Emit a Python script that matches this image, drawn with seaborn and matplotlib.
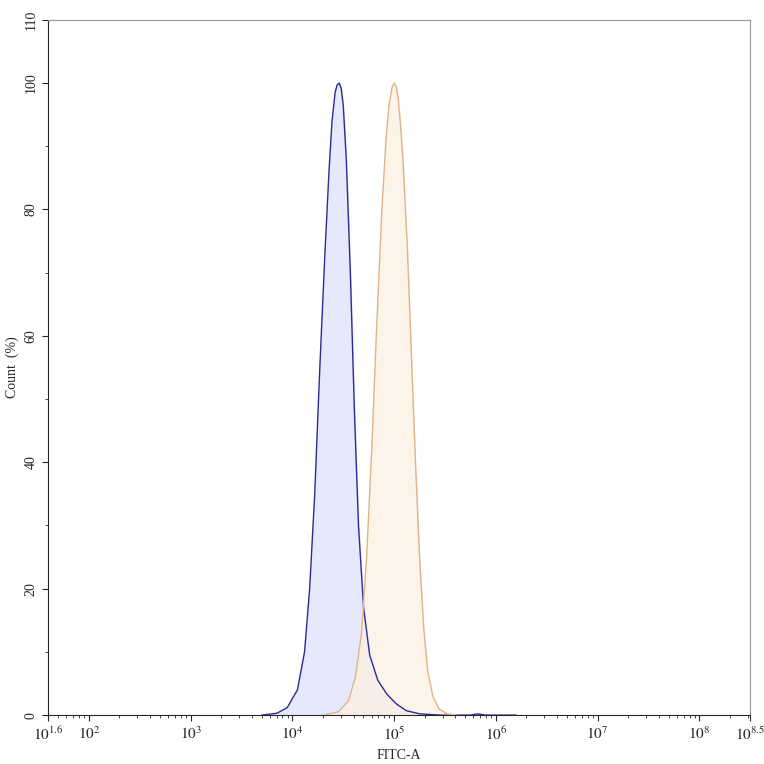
import matplotlib
matplotlib.use("Agg")
import matplotlib.pyplot as plt
import seaborn as sns
import numpy as np
import pandas as pd
from matplotlib.ticker import FixedLocator, LogLocator, NullFormatter

sns.set_style("ticks")
plt.rcParams['font.family'] = ['Liberation Serif', 'DejaVu Serif']
plt.rcParams['mathtext.fontset'] = 'stix'

blue_logx = [3.70, 3.85, 3.95, 4.05, 4.12, 4.17, 4.22, 4.27, 4.32, 4.36, 4.39, 4.42, 4.44, 4.46, 4.48, 4.50,
             4.53, 4.57, 4.61, 4.65, 4.70, 4.76, 4.84, 4.93, 5.02, 5.12, 5.25, 5.45, 5.75, 5.82, 5.9, 6.2]
blue_y = [0, 0.3, 1.2, 4, 10, 20, 35, 55, 73, 86, 94, 98.5, 99.7, 100, 99.2, 96.5,
          88, 70, 48, 30, 17, 9.5, 5.5, 3.3, 1.8, 0.7, 0.2, 0, 0, 0.2, 0, 0]
orange_logx = [4.30, 4.45, 4.55, 4.62, 4.68, 4.73, 4.78, 4.83, 4.88, 4.92, 4.95, 4.98, 5.00, 5.02, 5.04, 5.06,
               5.09, 5.13, 5.17, 5.21, 5.25, 5.29, 5.33, 5.38, 5.44, 5.52, 5.62]
orange_y = [0, 0.5, 2.2, 6, 13, 25, 42, 62, 80, 91, 96.5, 99.3, 100, 99.5, 97.5, 94,
            87, 74, 57, 40, 25, 14, 7, 3, 1, 0.2, 0]
xtick_exps = [1.6, 2, 3, 4, 5, 6, 7, 8, 8.5]
xtick_labels = [r"$10^{1.6}$", r"$10^{2}$", r"$10^{3}$", r"$10^{4}$", r"$10^{5}$", r"$10^{6}$", r"$10^{7}$", r"$10^{8}$", r"$10^{8.5}$"]
ytick_vals = [0, 20, 40, 60, 80, 100, 110]

fig = plt.figure(figsize=(7.64, 7.64), dpi=100)
ax = fig.add_axes([0.063, 0.064, 0.919, 0.91])

dfb = pd.DataFrame({"x": 10**np.array(blue_logx), "y": blue_y})
dfo = pd.DataFrame({"x": 10**np.array(orange_logx), "y": orange_y})
ax.fill_between(dfb.x, dfb.y, color="#e6e8fb", zorder=1)
ax.fill_between(dfo.x, dfo.y, color="#fdf1e2", alpha=0.75, zorder=2)
sns.lineplot(data=dfb, x="x", y="y", ax=ax, color="#2b2b9a", lw=1, sort=False, zorder=3)
sns.lineplot(data=dfo, x="x", y="y", ax=ax, color="#e0b48a", lw=1, sort=False, zorder=3)

ax.set_xscale("log")
ax.set_xlim(10**1.6, 10**8.5)
ax.set_ylim(0, 110)
ax.xaxis.set_major_locator(FixedLocator([10**e for e in xtick_exps]))
ax.set_xticklabels(xtick_labels, fontsize=11)
ax.xaxis.set_minor_locator(LogLocator(base=10, subs=np.arange(2, 10)))
ax.xaxis.set_minor_formatter(NullFormatter())
ax.set_yticks(ytick_vals)
ax.set_yticklabels([str(v) for v in ytick_vals], rotation=90, va="center", fontsize=10)
ax.set_yticks([10, 30, 50, 70, 90], minor=True)
ax.tick_params(length=4, width=0.8)
ax.tick_params(which="minor", length=2)
for s in ax.spines.values():
    s.set_linewidth(0.8)
ax.spines['top'].set_color("#999999")
ax.spines['right'].set_color("#999999")
ax.set_xlabel("FITC-A", fontsize=10)
ax.set_ylabel("Count  (%)", fontsize=10)
fig.savefig("out.png", dpi=100)
